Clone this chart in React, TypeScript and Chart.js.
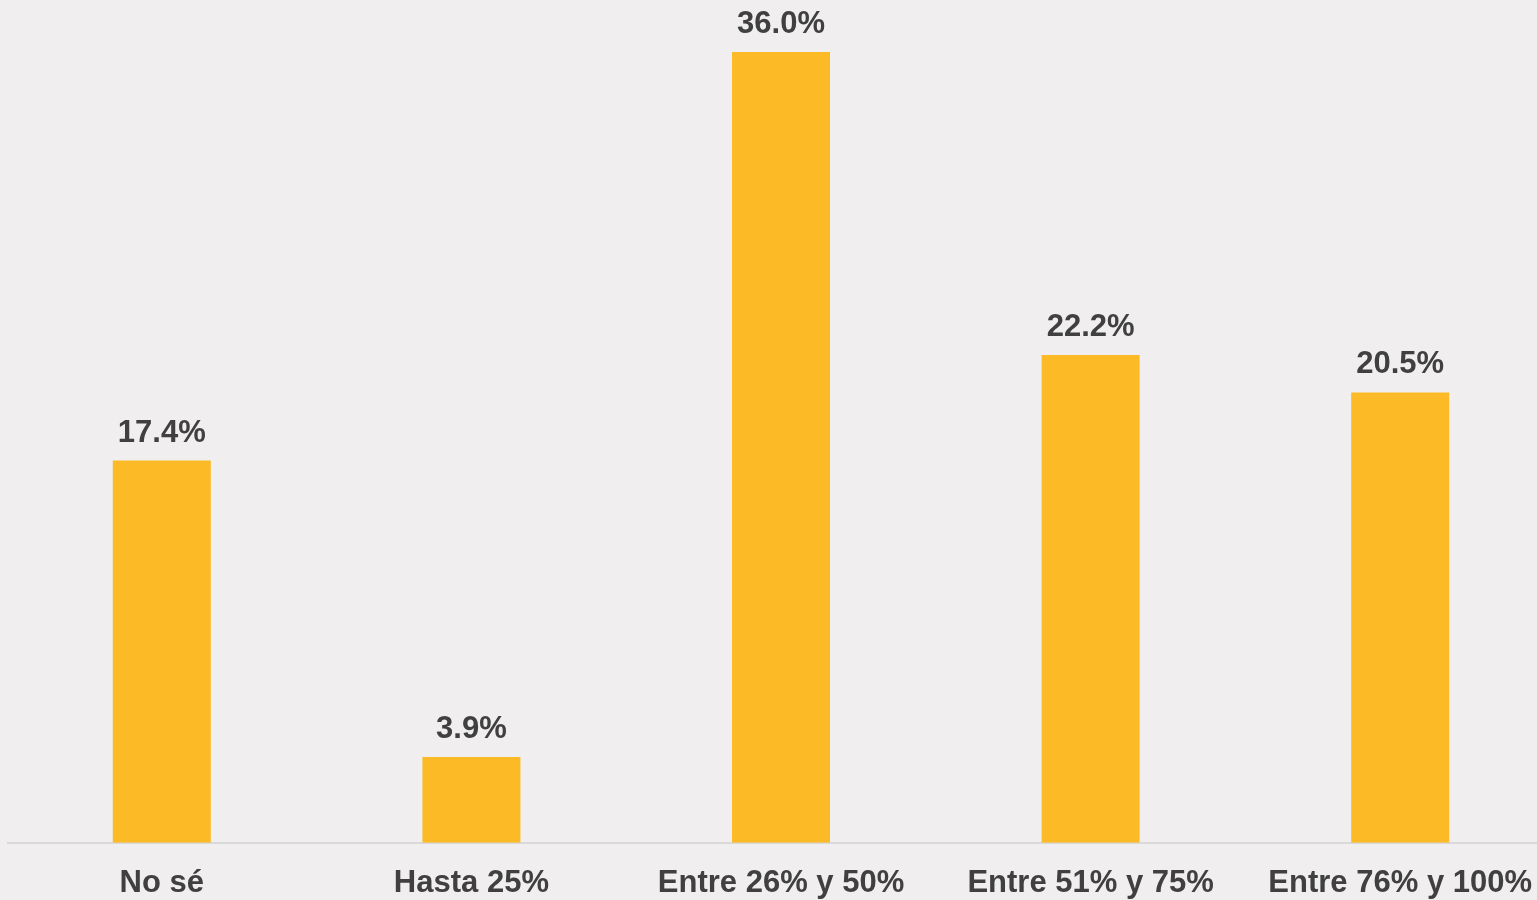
import React, { useEffect, useRef } from "react";
import { Chart, registerables } from "chart.js";

Chart.register(...registerables);

const categories = ["No sé", "Hasta 25%", "Entre 26% y 50%", "Entre 51% y 75%", "Entre 76% y 100%"];
const values = [17.4, 3.9, 36.0, 22.2, 20.5];

const BG = "#F0EEEF";
const BAR = "#FBBA26";
const TEXT = "#404040";
const FONT = "'Liberation Sans', Arial, sans-serif";

const valueLabels = {
  id: "valueLabels",
  afterDatasetsDraw(chart: any) {
    const ctx = chart.ctx;
    const meta = chart.getDatasetMeta(0);
    ctx.save();
    ctx.fillStyle = TEXT;
    ctx.font = `bold 31px ${FONT}`;
    ctx.textAlign = "center";
    ctx.textBaseline = "alphabetic";
    meta.data.forEach((bar: any, i: number) => {
      ctx.fillText(values[i].toFixed(1) + "%", bar.x, bar.y - 19);
    });
    ctx.restore();
  },
};

export default function App() {
  const ref = useRef<HTMLCanvasElement>(null);
  useEffect(() => {
    document.body.style.margin = "0";
    document.body.style.background = BG;
    document.body.style.overflow = "hidden";
    const chart = new Chart(ref.current!, {
      type: "bar",
      data: {
        labels: categories,
        datasets: [
          {
            data: values,
            backgroundColor: BAR,
            borderWidth: 0,
            categoryPercentage: 1,
            barPercentage: 0.3166,
          },
        ],
      },
      options: {
        animation: false,
        responsive: false,
        maintainAspectRatio: false,
        layout: { padding: { top: 8, bottom: 2, left: 0, right: 0 } },
        plugins: { legend: { display: false }, tooltip: { enabled: false } },
        scales: {
          x: {
            grid: { display: false, drawTicks: false },
            border: { display: true, color: "#D9D9D9", width: 2 },
            ticks: {
              color: TEXT,
              padding: 22,
              maxRotation: 0,
              autoSkip: false,
              font: { family: FONT, size: 31, weight: "bold" },
            },
          },
          y: {
            display: false,
            min: 0,
            max: 38,
          },
        },
      },
      plugins: [valueLabels],
    });
    return () => chart.destroy();
  }, []);
  return (
    <div
      style={{
        position: "fixed",
        left: 0,
        top: 0,
        width: 1537,
        height: 900,
        overflow: "hidden",
        background: BG,
      }}
    >
      <canvas
        ref={ref}
        width={1548}
        height={926}
        style={{ position: "absolute", left: 7, top: 0, width: 1548, height: 926 }}
      />
    </div>
  );
}
